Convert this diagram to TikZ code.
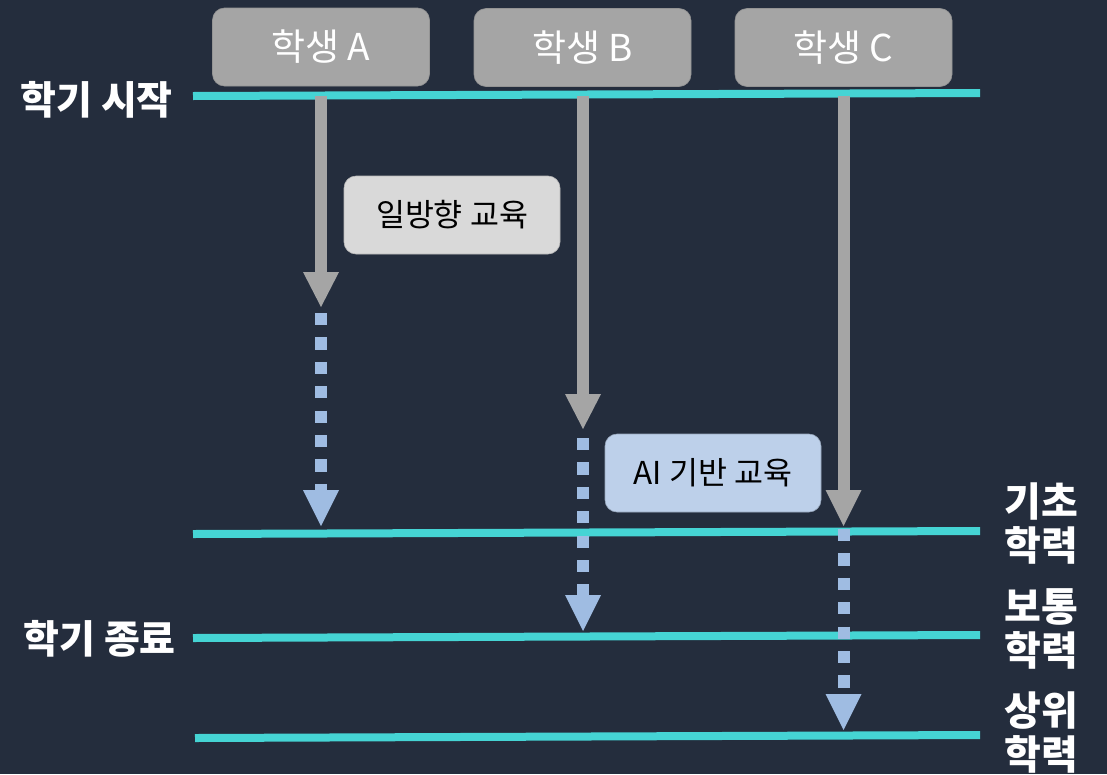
\documentclass[tikz,border=0pt]{standalone}
\usepackage{fontspec}
\setmainfont{Noto Sans CJK KR}
\definecolor{bgc}{HTML}{242D3D}
\definecolor{cyanl}{HTML}{45D4D4}
\definecolor{graya}{HTML}{A5A5A5}
\definecolor{bluea}{HTML}{9FBCE2}
\definecolor{lightbox}{HTML}{D9D9D9}
\definecolor{aibox}{HTML}{BDD0EA}
\begin{document}
\begin{tikzpicture}[x=1pt,y=-1pt,
  lane/.style={line width=8pt, draw=cyanl},
  shaft/.style={line width=12pt, draw=graya},
  dotshaft/.style={line width=12pt, draw=bluea, dash pattern=on 12.2pt off 12.2pt},
  student/.style={rectangle, rounded corners=12pt, fill=graya, draw=graya!90!black, line width=0.6pt,
    minimum width=217pt, minimum height=78pt, text=white, font=\fontsize{37}{42}\selectfont},
  infobox/.style={rectangle, rounded corners=12pt, line width=0.6pt,
    minimum width=216pt, minimum height=78pt, text=black, font=\fontsize{31.5}{36}\selectfont},
  sidelabel/.style={text=white, font=\bfseries\fontsize{39}{44}\selectfont, inner sep=0pt},
  levellabel/.style={text=white, align=center, font=\bfseries\fontsize{40}{44}\selectfont, inner sep=0pt}
]
\fill[bgc] (0,0) rectangle (1107,774);

% lanes
\coordinate (l1a) at (193,96);  \coordinate (l1b) at (980,93);
\coordinate (l2a) at (193,534); \coordinate (l2b) at (980,531);
\coordinate (l3a) at (193,638); \coordinate (l3b) at (980,635);
\coordinate (l4a) at (195,738); \coordinate (l4b) at (980,735);
\draw[lane] (l1a) -- (l1b);
\draw[lane] (l2a) -- (l2b);
\draw[lane] (l3a) -- (l3b);
\draw[lane] (l4a) -- (l4b);

% students
\node[student] (sA) at (321,47) {학생 A};
\node[student] (sB) at (582.5,47.5) {학생 B};
\node[student] (sC) at (843.5,47.5) {학생 C};

% gray arrows
\coordinate (gA0) at (321,96);   \coordinate (gA1) at (321,272);
\coordinate (gB0) at (583,96);   \coordinate (gB1) at (583,394);
\coordinate (gC0) at (843.5,96); \coordinate (gC1) at (843.5,490);
\draw[shaft] (gA0) -- (gA1);
\draw[shaft] (gB0) -- (gB1);
\draw[shaft] (gC0) -- (gC1);
\fill[graya] (gA1) ++(-18,0) -- ++(36,0) -- ++(-18,35) -- cycle;
\fill[graya] (gB1) ++(-18,0) -- ++(36,0) -- ++(-18,35) -- cycle;
\fill[graya] (gC1) ++(-18,0) -- ++(36,0) -- ++(-18,36) -- cycle;

% blue dotted arrows
\coordinate (bA0) at (321,313);   \coordinate (bA1) at (321,490);
\coordinate (bB0) at (583,438);   \coordinate (bB1) at (583,595);
\coordinate (bC0) at (843.5,529); \coordinate (bC1) at (843.5,694);
\draw[dotshaft] (bA0) -- (bA1);
\draw[dotshaft] (bB0) -- (bB1);
\draw[dotshaft] (bC0) -- (bC1);
\fill[bluea] (bA1) ++(-18,0) -- ++(36,0) -- ++(-18,36) -- cycle;
\fill[bluea] (bB1) ++(-18,0) -- ++(36,0) -- ++(-18,36) -- cycle;
\fill[bluea] (bC1) ++(-18,0) -- ++(36,0) -- ++(-18,36) -- cycle;

% info boxes
\node[infobox, fill=lightbox, draw=lightbox!85!black] (one) at (452,215) {일방향 교육};
\node[infobox, fill=aibox, draw=aibox!80!black] (ai) at (713,473) {AI 기반 교육};

% side labels
\node[sidelabel, anchor=east] (start) at (173,100) {학기 시작};
\node[sidelabel, anchor=east] (end) at (176,639) {학기 종료};
\node[levellabel] (basic) at (1041,524) {기초\\학력};
\node[levellabel] (normal) at (1041,629) {보통\\학력};
\node[levellabel] (upper) at (1041,733) {상위\\학력};
\end{tikzpicture}
\end{document}
